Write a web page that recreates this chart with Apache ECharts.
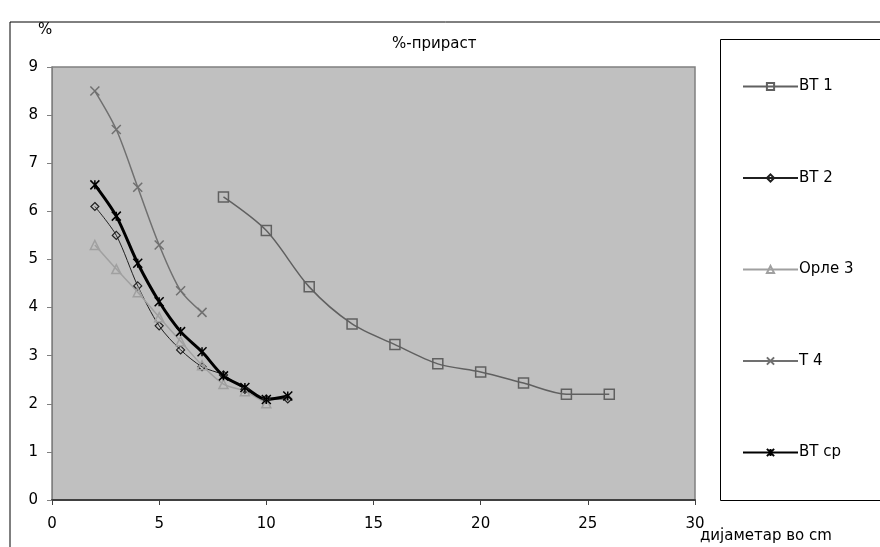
<!DOCTYPE html>
<html>
<head>
<meta charset="utf-8">
<script src="https://cdn.jsdelivr.net/npm/echarts@6/dist/echarts.min.js"></script>
<style>
  html, body { margin: 0; padding: 0; background: #fff; }
  #main { width: 880px; height: 547px; }
</style>
</head>
<body>
<div id="main"></div>
<script>
// data
var xBT1 = [8, 10, 12, 14, 16, 18, 20, 22, 24, 26];
var yBT1 = [6.3, 5.6, 4.43, 3.66, 3.23, 2.83, 2.66, 2.43, 2.2, 2.2];
var xBT2 = [2, 3, 4, 5, 6, 7, 8, 9, 10, 11];
var yBT2 = [6.1, 5.5, 4.45, 3.62, 3.12, 2.77, 2.6, 2.3, 2.1, 2.1];
var xOrle3 = [2, 3, 4, 5, 6, 7, 8, 9, 10];
var yOrle3 = [5.3, 4.8, 4.32, 3.8, 3.3, 2.8, 2.41, 2.26, 2.01];
var xT4 = [2, 3, 4, 5, 6, 7];
var yT4 = [8.5, 7.7, 6.5, 5.3, 4.35, 3.9];
var xBTsr = [2, 3, 4, 5, 6, 7, 8, 9, 10, 11];
var yBTsr = [6.55, 5.9, 4.92, 4.12, 3.5, 3.08, 2.58, 2.34, 2.09, 2.16];
var names = ['ВТ 1', 'ВТ 2', 'Орле 3', 'Т 4', 'ВТ ср'];

function pairs(xs, ys) {
    return xs.map(function (x, i) { return [x, ys[i]] })
}

var font = 'DejaVu Sans, Liberation Sans, sans-serif'
var crossPath = 'path://M0,0L10,10M10,0L0,10'
var starPath = 'path://M0,0L10,10M10,0L0,10M5,0L5,10'

function mkSeries(name, data, color, width, symbol, size, bw) {
    return {
        name: name,
        type: 'line',
        data: data,
        smooth: 0.3,
        symbol: symbol,
        symbolSize: size,
        lineStyle: { color: color, width: width },
        itemStyle: { color: 'rgba(0,0,0,0)', borderColor: color, borderWidth: bw },
        z: 3
    }
}

var option = {
    animation: false,
    backgroundColor: '#fff',
    textStyle: { fontFamily: font },
    grid: {
        left: 52, right: 185, top: 67, bottom: 47,
        show: true,
        backgroundColor: '#c0c0c0',
        borderColor: '#808080',
        borderWidth: 1.5
    },
    xAxis: {
        type: 'value',
        min: 0, max: 30, interval: 5,
        splitLine: { show: false },
        axisLine: { show: true, onZero: false, lineStyle: { color: '#404040', width: 2 } },
        axisTick: { show: true, length: 5, lineStyle: { color: '#404040' } },
        axisLabel: { color: '#000', fontSize: 15, margin: 17, fontFamily: font }
    },
    yAxis: {
        type: 'value',
        min: 0, max: 9, interval: 1,
        splitLine: { show: false },
        axisLine: { show: true, lineStyle: { color: '#808080', width: 1 } },
        axisTick: { show: true, length: 5, lineStyle: { color: '#808080' } },
        axisLabel: { color: '#000', fontSize: 15, margin: 14, fontFamily: font }
    },
    legend: {
        orient: 'vertical',
        left: 742, top: 79,
        padding: 0,
        itemWidth: 55, itemHeight: 9,
        itemGap: 76.5,
        textStyle: { color: '#000', fontSize: 15, fontFamily: font, padding: [0, 0, 0, -4] },
        data: names
    },
    graphic: [
        { type: 'rect', shape: { x: 10, y: 22, width: 900, height: 600 },
          style: { fill: 'none', stroke: '#000', lineWidth: 1 }, z: -1 },
        { type: 'rect', shape: { x: 720.5, y: 39.5, width: 200, height: 461 },
          style: { fill: '#fff', stroke: '#000', lineWidth: 1 }, z: -1 },
        { type: 'text', left: 38, top: 23,
          style: { text: '%', fill: '#000', font: '15px ' + font } },
        { type: 'text', left: 392, top: 37,
          style: { text: '%-прираст', fill: '#000', font: '15px ' + font } },
        { type: 'text', left: 700, top: 529,
          style: { text: 'дијаметар во cm', fill: '#000', font: '15px ' + font } }
    ],
    series: [
        mkSeries(names[0], pairs(xBT1, yBT1), '#606060', 1.5, 'rect', 10, 1.5),
        mkSeries(names[1], pairs(xBT2, yBT2), '#202020', 1, 'diamond', 8, 1.2),
        mkSeries(names[2], pairs(xOrle3, yOrle3), '#a0a0a0', 1.5, 'triangle', 9, 1.5),
        mkSeries(names[3], pairs(xT4, yT4), '#707070', 1.5, crossPath, 9, 1.5),
        mkSeries(names[4], pairs(xBTsr, yBTsr), '#000000', 3, starPath, 9, 1.5)
    ]
}

var myChart = echarts.init(document.getElementById('main'))
myChart.setOption(option, true)
</script>
</body>
</html>
